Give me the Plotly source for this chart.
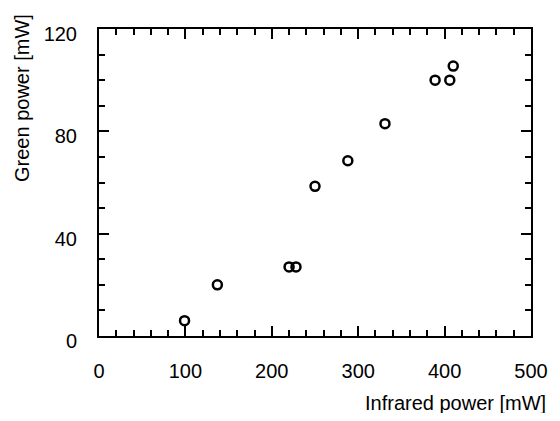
import plotly.graph_objects as go

infrared_mw = [99, 137, 220, 228, 250, 288, 331, 389, 406, 410]
green_mw = [6, 20, 27, 27, 58.5, 68.5, 83, 100, 100, 105.5]

x_ticks = [0, 100, 200, 300, 400, 500]
y_ticks = [0, 40, 80, 120]

FONT = "Liberation Sans, Arial, Helvetica, sans-serif"

fig = go.Figure()
fig.add_trace(go.Scatter(
    x=infrared_mw, y=green_mw, mode="markers",
    marker=dict(symbol="circle-open", size=9, color="black",
                line=dict(width=2.5, color="black")),
    showlegend=False, hoverinfo="x+y",
))

axis_common = dict(
    showline=True, linecolor="black", linewidth=2,
    mirror="ticks", ticks="inside", ticklen=10, tickwidth=2, tickcolor="black",
    showgrid=False, zeroline=False,
    tickfont=dict(family=FONT, size=20, color="black"),
)

fig.update_xaxes(range=[0, 500], tickvals=x_ticks,
                 minor=dict(dtick=20, ticks="inside", ticklen=6, tickwidth=1.5, tickcolor="black"),
                 ticklabelstandoff=16, **axis_common)
fig.update_yaxes(range=[0, 120], tickvals=y_ticks,
                 minor=dict(dtick=10, ticks="inside", ticklen=6, tickwidth=1.5, tickcolor="black"),
                 ticklabelstandoff=16, ticklabelshift=5, **axis_common)

fig.add_annotation(text="Infrared power [mW]", xref="paper", yref="paper",
                   x=1, y=0, xanchor="right", yanchor="middle",
                   xshift=17, yshift=-67, showarrow=False,
                   font=dict(family=FONT, size=20, color="black"))
fig.add_annotation(text="Green power [mW]", xref="paper", yref="paper",
                   x=0, y=1, xanchor="center", yanchor="top", textangle=-90,
                   xshift=-77, yshift=17, showarrow=False,
                   font=dict(family=FONT, size=20, color="black"))

fig.update_layout(
    width=552, height=405,
    margin=dict(l=91, r=24, t=21, b=77),
    paper_bgcolor="white", plot_bgcolor="white",
)

fig.write_html("out.html")
